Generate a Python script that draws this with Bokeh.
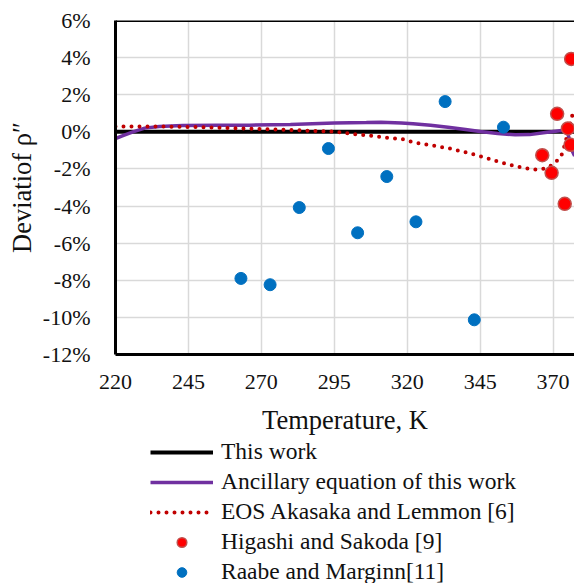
from bokeh.plotting import figure
from bokeh.layouts import column
from bokeh.models import (Range1d, FixedTicker, PrintfTickFormatter, Span,
                          Legend, LegendItem)
from bokeh.embed import file_html
from bokeh.resources import INLINE

# Saturated vapour density deviations (%) against temperature (K)

# Reference line (this work)
T_ref = [220, 377.4]
dev_ref = [0.0, 0.0]

# Ancillary equation of this work
T_anc = [220, 223, 226, 230, 235, 243, 255, 266, 280, 295, 306, 311, 318, 322,
         328, 334, 340, 345, 351, 357, 362, 368, 373, 374.8, 375.6, 376.5, 377.4]
dev_anc = [-0.36, -0.18, 0.0, 0.2, 0.29, 0.34, 0.35, 0.36, 0.40, 0.48, 0.50, 0.52,
           0.47, 0.43, 0.35, 0.25, 0.13, 0.02, -0.09, -0.16, -0.15, -0.02, 0.07,
           0.05, -0.4, -1.0, -1.3]

# EOS Akasaka and Lemmon [6]
T_eos = [220, 235, 250, 265, 278, 288, 295, 301, 308, 313, 318, 322, 328, 334,
         340, 345, 351, 357, 361, 364, 367, 369, 371.4, 373.1, 374, 375, 376,
         376.5, 377.4]
dev_eos = [0.29, 0.29, 0.25, 0.18, 0.11, 0.05, 0.02, -0.11, -0.22, -0.32, -0.38,
           -0.56, -0.72, -0.88, -1.1, -1.31, -1.6, -1.85, -1.97, -2.03, -1.98,
           -1.85, -1.55, -1.19, -0.7, -0.1, 0.5, 0.85, 1.1]

# Higashi and Sakoda [9]
T_hs = [366.3, 369.5, 371.4, 374.0, 375.1, 376.0, 376.2]
dev_hs = [-1.26, -2.21, 0.97, -3.88, 0.18, -0.70, 3.93]

# Raabe and Marginn [11]
T_rm = [263, 273, 283, 293, 303, 313, 323, 333, 343, 353]
dev_rm = [-7.9, -8.24, -4.08, -0.90, -5.44, -2.41, -4.85, 1.63, -10.13, 0.25]

x_ticks = [220, 245, 270, 295, 320, 345, 370, 395]
y_ticks = [-12, -10, -8, -6, -4, -2, 0, 2, 4, 6]

labels = ["This work", "Ancillary equation of this work",
          "EOS Akasaka and Lemmon [6]", "Higashi and Sakoda [9]",
          "Raabe and Marginn[11]"]

FONT = "Liberation Serif"

# shared styles for each series
STY_REF = dict(line_color="black", line_width=4)
STY_ANC = dict(line_color="#7030A0", line_width=3.5)
STY_EOS = dict(line_color="#C00000", line_width=4, line_dash="0 8",
               line_cap="round")
STY_HS = dict(size=13, fill_color="#FF0000", line_color="#C0504D",
              line_width=1.5)
STY_RM = dict(size=12, fill_color="#0070C0", line_color="#0070C0",
              line_width=1)

p = figure(frame_width=459, frame_height=334,
           x_range=Range1d(220, 377.35), y_range=Range1d(-12, 6),
           output_backend="svg", toolbar_location=None,
           min_border_left=115, min_border_right=0, min_border_top=20,
           min_border_bottom=84)
p.outline_line_color = None
p.background_fill_color = "white"
p.border_fill_color = "white"

# axes
p.xaxis.ticker = FixedTicker(ticks=x_ticks)
p.yaxis.ticker = FixedTicker(ticks=y_ticks)
p.yaxis.formatter = PrintfTickFormatter(format="%d%%")
for ax in (p.xaxis[0], p.yaxis[0]):
    ax.axis_line_width = 3
    ax.axis_line_color = "black"
    ax.major_tick_out = 0
    ax.major_tick_in = 0
    ax.minor_tick_out = 0
    ax.minor_tick_in = 0
    ax.major_label_text_font = FONT
    ax.major_label_text_font_size = "22px"
    ax.major_label_text_color = "#111111"
    ax.axis_label_text_font = FONT
    ax.axis_label_text_font_style = "normal"
    ax.axis_label_text_font_size = "26.5px"
    ax.axis_label_text_color = "#111111"
p.xaxis.axis_label = "Temperature, K"
p.xaxis.major_label_standoff = 20
p.xaxis.axis_label_standoff = 13
p.yaxis.axis_label = "Deviatiof ρ″"
p.yaxis.major_label_standoff = 25
p.yaxis.axis_label_standoff = 3

# grid
p.xgrid.ticker = FixedTicker(ticks=x_ticks[1:])
p.ygrid.ticker = FixedTicker(ticks=y_ticks)
for g in (p.xgrid[0], p.ygrid[0]):
    g.grid_line_color = "#d9d9d9"
    g.grid_line_width = 1.5

# top border of the frame
p.add_layout(Span(location=6, dimension="width", line_color="black",
                  line_width=3))

p.line(T_ref, dev_ref, **STY_REF)
p.line(T_anc, dev_anc, **STY_ANC)
p.line(T_eos, dev_eos, **STY_EOS)
p.scatter(T_hs, dev_hs, **STY_HS)
p.scatter(T_rm, dev_rm, **STY_RM)

# key panel under the chart; its ranges keep the series themselves out of view,
# so only the legend entries show
k = figure(width=574, height=145, x_range=Range1d(0, 1), y_range=Range1d(0, 1),
           output_backend="svg", toolbar_location=None, min_border=0,
           x_axis_type=None, y_axis_type=None)
k.outline_line_color = None
k.grid.visible = False
k_rs = [
    k.line(T_ref, dev_ref, **STY_REF),
    k.line(T_anc, dev_anc, **STY_ANC),
    k.line(T_eos, dev_eos, **STY_EOS),
    k.scatter(T_hs, dev_hs, **STY_HS),
    k.scatter(T_rm, dev_rm, **STY_RM),
]
legend = Legend(items=[LegendItem(label=lab, renderers=[r])
                       for lab, r in zip(labels, k_rs)],
                location=(35, -2), orientation="vertical")
legend.label_text_font = FONT
legend.label_text_font_size = "23.5px"
legend.label_text_color = "#111111"
legend.glyph_width = 63
legend.glyph_height = 24
legend.label_height = 24
legend.label_standoff = 8
legend.spacing = 3
legend.padding = 0
legend.margin = 0
legend.border_line_color = None
legend.background_fill_alpha = 0
k.add_layout(legend, "center")

open("out.html", "w").write(file_html(column(p, k), INLINE))
